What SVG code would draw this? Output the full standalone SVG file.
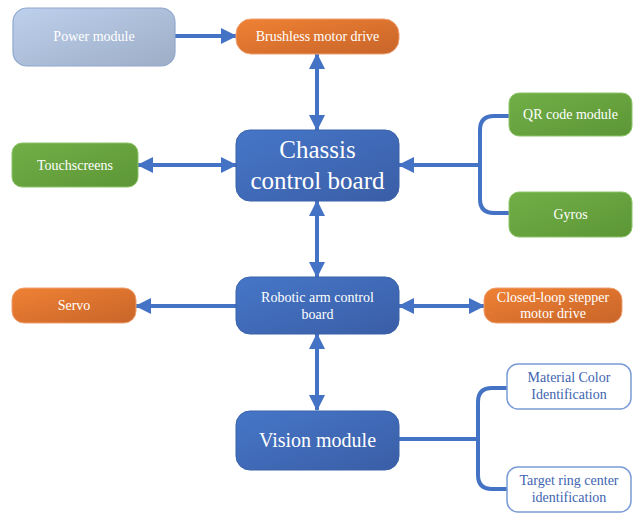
<svg xmlns="http://www.w3.org/2000/svg" width="637" height="513" viewBox="0 0 637 513">
<defs>
<linearGradient id="gBlue" x1="0" y1="0" x2="1" y2="1"><stop offset="0" stop-color="#4676C8"/><stop offset="1" stop-color="#3A5EA6"/></linearGradient>
<linearGradient id="gGreen" x1="0" y1="0" x2="1" y2="1"><stop offset="0" stop-color="#72AF47"/><stop offset="1" stop-color="#5C9636"/></linearGradient>
<linearGradient id="gOrange" x1="0" y1="0" x2="1" y2="1"><stop offset="0" stop-color="#EF8133"/><stop offset="1" stop-color="#C8652A"/></linearGradient>
<linearGradient id="gGray" x1="0" y1="0" x2="1" y2="1"><stop offset="0" stop-color="#BDD0EC"/><stop offset="1" stop-color="#9DADC6"/></linearGradient>
<marker id="ah" markerUnits="userSpaceOnUse" markerWidth="16" markerHeight="16" refX="15" refY="8" orient="auto-start-reverse" viewBox="0 0 16 16">
<path d="M0,0 L16,8 L0,16 z" fill="#4472C4"/>
</marker>
<style>
.b{fill:url(#gBlue);stroke:#3A62AA;stroke-width:1}
.g{fill:url(#gGreen);stroke:#8CC468;stroke-width:1}
.o{fill:url(#gOrange);stroke:#F0A070;stroke-width:1}
.p{fill:url(#gGray);stroke:#8FA8CC;stroke-width:1.2}
.w{fill:#FFFFFF;stroke:#7A9CD6;stroke-width:1.5}
.t{font-family:"Liberation Serif","Times New Roman",serif;fill:#FFFFFF;text-anchor:middle;font-size:14px}
.tb{font-family:"Liberation Serif","Times New Roman",serif;fill:#3E64B0;text-anchor:middle;font-size:14px}
.c{stroke:#4472C4;stroke-width:4;fill:none}
</style>
</defs>
<g id="connectors">
<line class="c" x1="175" y1="36" x2="236" y2="36" marker-end="url(#ah)"/>
<line class="c" x1="317" y1="54" x2="317" y2="130" marker-start="url(#ah)" marker-end="url(#ah)"/>
<line class="c" x1="138" y1="165" x2="236" y2="165" marker-start="url(#ah)" marker-end="url(#ah)"/>
<path class="c" d="M509,116 L494,116 Q480,116 480,130 V199 Q480,213 494,213 L509,213"/>
<line class="c" x1="480" y1="165" x2="399" y2="165" marker-end="url(#ah)"/>
<line class="c" x1="317" y1="201" x2="317" y2="277" marker-start="url(#ah)" marker-end="url(#ah)"/>
<line class="c" x1="236" y1="306" x2="136" y2="306" marker-end="url(#ah)"/>
<line class="c" x1="399" y1="306" x2="484" y2="306" marker-start="url(#ah)" marker-end="url(#ah)"/>
<line class="c" x1="317" y1="334" x2="317" y2="410" marker-start="url(#ah)" marker-end="url(#ah)"/>
<path class="c" d="M507,388 L492,388 Q478,388 478,402 V475 Q478,489 492,489 L507,489"/>
<line class="c" x1="399" y1="439" x2="478" y2="439"/>
</g>
<g id="power"><rect class="p" x="13" y="8" width="162" height="58" rx="14"/><text class="t" x="94" y="41">Power module</text></g>
<g id="brushless"><rect class="o" x="236" y="19" width="163" height="35" rx="15"/><text class="t" x="317.5" y="41">Brushless motor drive</text></g>
<g id="chassis"><rect class="b" x="236" y="130" width="163" height="71" rx="14"/><text class="t" x="317.5" y="158" style="font-size:25px">Chassis</text><text class="t" x="317.5" y="189" style="font-size:25px">control board</text></g>
<g id="touch"><rect class="g" x="12" y="143" width="126" height="44" rx="10"/><text class="t" x="75" y="170">Touchscreens</text></g>
<g id="qr"><rect class="g" x="509" y="93" width="123" height="43" rx="10"/><text class="t" x="570.5" y="119">QR code module</text></g>
<g id="gyros"><rect class="g" x="509" y="192" width="123" height="45" rx="10"/><text class="t" x="570.5" y="219">Gyros</text></g>
<g id="robotic"><rect class="b" x="236" y="277" width="163" height="57" rx="14"/><text class="t" x="317.5" y="302">Robotic arm control</text><text class="t" x="317.5" y="319">board</text></g>
<g id="servo"><rect class="o" x="12" y="288" width="124" height="35" rx="12"/><text class="t" x="74" y="310">Servo</text></g>
<g id="stepper"><rect class="o" x="484" y="288" width="138" height="35" rx="12"/><text class="t" x="553" y="302">Closed-loop stepper</text><text class="t" x="553" y="318">motor drive</text></g>
<g id="vision"><rect class="b" x="236" y="411" width="163" height="59" rx="14"/><text class="t" x="317.5" y="447" style="font-size:20px">Vision module</text></g>
<g id="color"><rect class="w" x="507" y="364" width="124" height="45" rx="11"/><text class="tb" x="569" y="382">Material Color</text><text class="tb" x="569" y="399">Identification</text></g>
<g id="ring"><rect class="w" x="507" y="467" width="124" height="45" rx="11"/><text class="tb" x="569" y="485">Target ring center</text><text class="tb" x="569" y="502">identification</text></g>
</svg>
